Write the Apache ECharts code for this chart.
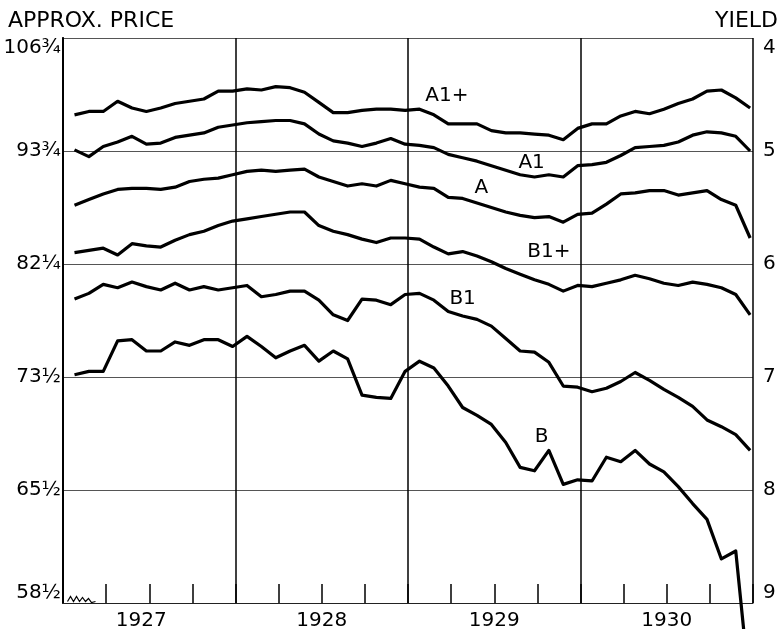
<!DOCTYPE html>
<html>
<head>
<meta charset="utf-8">
<script src="https://cdn.jsdelivr.net/npm/echarts@6/dist/echarts.min.js"></script>
<style>
  html, body { margin: 0; padding: 0; background: #fff; }
  #chart { width: 784px; height: 629px; }
</style>
</head>
<body>
<div id="chart"></div>
<script>
// monthly yields, end of month, Jan 1927 .. Dec 1930
var years = ['1927', '1928', '1929', '1930'];
var yieldTicks = ['4', '5', '6', '7', '8', '9'];
var priceTicks = ['106¾', '93¾', '82¼', '73½', '65½', '58½'];

var a1plus = [4.68,4.65,4.65,4.56,4.62,4.65,4.62,4.58,4.56,4.54, 4.47,4.47,4.45,4.46,4.43,4.44,4.48,4.57,4.66,4.66,
              4.64,4.63,4.63,4.64,4.63,4.68,4.76,4.76,4.76,4.82, 4.84,4.84,4.85,4.86,4.90,4.80,4.76,4.76,4.69,4.65,
              4.67,4.63,4.58,4.54,4.47,4.46,4.53,4.62];
var a1 = [4.99,5.05,4.96,4.92,4.87,4.94,4.93,4.88,4.86,4.84, 4.79,4.77,4.75,4.74,4.73,4.73,4.76,4.85,4.91,4.93,
          4.96,4.93,4.89,4.94,4.95,4.97,5.03,5.06,5.09,5.13, 5.17,5.21,5.23,5.21,5.23,5.13,5.12,5.10,5.04,4.97,
          4.96,4.95,4.92,4.86,4.83,4.84,4.87,5.00];
var a = [5.48,5.43,5.38,5.34,5.33,5.33,5.34,5.32,5.27,5.25, 5.24,5.21,5.18,5.17,5.18,5.17,5.16,5.23,5.27,5.31,
         5.29,5.31,5.26,5.29,5.32,5.33,5.41,5.42,5.46,5.50, 5.54,5.57,5.59,5.58,5.63,5.56,5.55,5.47,5.38,5.37,
         5.35,5.35,5.39,5.37,5.35,5.43,5.48,5.77];
var b1plus = [5.90,5.88,5.86,5.92,5.82,5.84,5.85,5.79,5.74,5.71, 5.66,5.62,5.60,5.58,5.56,5.54,5.54,5.66,5.71,5.74,
              5.78,5.81,5.77,5.77,5.78,5.85,5.91,5.89,5.93,5.98, 6.04,6.09,6.14,6.18,6.24,6.19,6.20,6.17,6.14,6.10,
              6.13,6.17,6.19,6.16,6.18,6.21,6.27,6.45];
var b1 = [6.31,6.26,6.18,6.21,6.16,6.20,6.23,6.17,6.23,6.20, 6.23,6.21,6.19,6.29,6.27,6.24,6.24,6.32,6.45,6.50,
          6.31,6.32,6.36,6.27,6.26,6.32,6.42,6.46,6.49,6.55, 6.66,6.77,6.78,6.87,7.08,7.09,7.13,7.10,7.04,6.96,
          7.03,7.11,7.18,7.26,7.38,7.44,7.51,7.65];
var b = [6.98,6.95,6.95,6.68,6.67,6.77,6.77,6.69,6.72,6.67, 6.67,6.73,6.64,6.73,6.83,6.77,6.72,6.86,6.77,6.84,
         7.16,7.18,7.19,6.95,6.86,6.92,7.08,7.27,7.34,7.42, 7.58,7.80,7.83,7.65,7.95,7.91,7.92,7.71,7.75,7.65,
         7.77,7.84,7.97,8.12,8.26,8.61,8.54,9.80];

// month positions on the axis (0 = start of 1927, 48 = end of 1930)
var monthPos = [];
for (var i = 1; i <= 48; i++) monthPos.push(i - 0.2);

var FONT = 'DejaVu Sans';

function makeLine(name, vals, labelAt) {
  return {
    name: name,
    type: 'line',
    xAxisIndex: 0,
    yAxisIndex: 0,
    symbol: 'none',
    clip: false,
    lineStyle: { color: '#000', width: 3.2, join: 'round' },
    data: vals.map(function (v, k) { return [monthPos[k], v]; }),
    markPoint: {
      symbol: 'circle',
      symbolSize: 0,
      label: { show: true, position: 'inside', formatter: '{b}', color: '#000', fontSize: 20, fontFamily: FONT },
      data: [{ name: name, coord: labelAt }]
    }
  };
}

var chart = echarts.init(document.getElementById('chart'), null, { renderer: 'canvas' });

var option = {
  animation: false,
  backgroundColor: '#fff',
  grid: { left: 63, right: 31, top: 38, bottom: 26, containLabel: false, outerBoundsMode: 'none' },
  xAxis: [
    {
      type: 'value', min: 0, max: 48, interval: 12, position: 'bottom',
      axisLine: { show: true, lineStyle: { color: '#222', width: 1 } },
      axisTick: { show: false },
      axisLabel: { show: false },
      splitLine: { show: true, lineStyle: { color: '#000', width: 1.5 } }
    },
    {
      type: 'value', min: 0, max: 48, interval: 3, position: 'bottom',
      axisLine: { show: false },
      axisTick: { show: true, inside: true, length: 19, lineStyle: { color: '#000', width: 1.5 } },
      axisLabel: {
        show: true, margin: 8, color: '#000', fontSize: 20, fontFamily: FONT,
        rich: { first: { fontSize: 20, fontFamily: FONT, color: '#000', padding: [0, 16, 0, 0] } },
        formatter: function (v) {
          if (v === 6) return '{first|' + years[0] + '}';
          if ((v - 6) % 12 === 0) return years[(v - 6) / 12];
          return '';
        }
      },
      splitLine: { show: false }
    }
  ],
  yAxis: [
    {
      type: 'value', inverse: true, min: 4, max: 9, interval: 1, position: 'left',
      axisLine: { show: true, lineStyle: { color: '#000', width: 2 } },
      axisTick: { show: false },
      axisLabel: {
        show: true, margin: 2, color: '#000', fontSize: 20, fontFamily: FONT,
        verticalAlignMinLabel: 'top', verticalAlignMaxLabel: 'bottom',
        formatter: function (v) { return priceTicks[Math.round(v) - 4]; }
      },
      splitLine: { show: true, lineStyle: { color: '#555', width: 1 } }
    },
    {
      type: 'value', inverse: true, min: 4, max: 9, interval: 1, position: 'right',
      axisLine: { show: true, lineStyle: { color: '#000', width: 1.5 } },
      axisTick: { show: false },
      axisLabel: {
        show: true, margin: 10, color: '#000', fontSize: 20, fontFamily: FONT,
        verticalAlignMinLabel: 'top', verticalAlignMaxLabel: 'bottom',
        formatter: function (v) { return yieldTicks[Math.round(v) - 4]; }
      },
      splitLine: { show: false }
    }
  ],
  graphic: [
    { type: 'text', left: 8, top: 10, style: { text: 'APPROX. PRICE', fill: '#000', fontSize: 22, fontFamily: FONT } },
    { type: 'text', right: 6, top: 10, style: { text: 'YIELD', fill: '#000', fontSize: 22, fontFamily: FONT } },
    {
      type: 'polyline', left: 65, top: 594,
      shape: { points: [[0, 8], [3, 3], [6, 8], [9, 3], [12, 8], [15, 4], [18, 8], [21, 5], [24, 9], [28, 8]] },
      style: { stroke: '#000', lineWidth: 1.2, fill: null }
    }
  ],
  series: [
    makeLine('A1+', a1plus, [26.7, 4.51]),
    makeLine('A1', a1, [32.6, 5.10]),
    makeLine('A', a, [29.1, 5.33]),
    makeLine('B1+', b1plus, [33.8, 5.89]),
    makeLine('B1', b1, [27.8, 6.31]),
    makeLine('B', b, [33.3, 7.53])
  ]
};

chart.setOption(option);
</script>
</body>
</html>
